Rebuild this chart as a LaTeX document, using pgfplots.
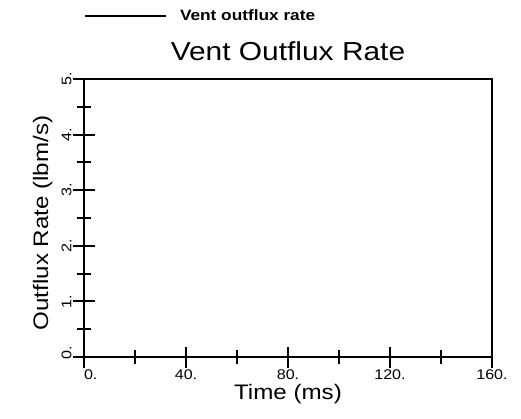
\documentclass[border=0pt]{standalone}
\usepackage{fontspec}
\setmainfont{Liberation Sans}[FakeStretch=1.15]
\usepackage{pgfplots}
\pgfplotsset{compat=1.18}
\begin{document}
\begin{tikzpicture}
\useasboundingbox (-84pt,-61pt) rectangle (437pt,357pt);
\begin{axis}[
  at={(0pt,0pt)}, anchor=south west,
  scale only axis,
  width=408pt, height=278pt,
  xmin=0, xmax=160, ymin=0, ymax=5,
  axis line style={line width=2.5pt},
  every tick/.style={black, line width=2pt},
  tick align=center,
  xtick pos=bottom, ytick pos=left,
  major tick length=21pt,
  minor tick length=14pt,
  xtick={0,40,80,120,160},
  xticklabels={\makebox[0pt][l]{0.},40.,80.,120.,160.},
  minor x tick num=1,
  ytick={0,1,2,3,4,5},
  yticklabels={\hspace*{8pt}0.,1.,2.,3.,4.,5.},
  minor y tick num=1,
  /pgf/number format/assume math mode=true,
  ticklabel style={font=\fontsize{14pt}{16pt}\selectfont},
  xticklabel style={anchor=base},
  xticklabel shift=12pt,
  yticklabel style={rotate=90, anchor=base},
  yticklabel shift=2pt,
  title={Vent Outflux Rate},
  title style={at={(axis description cs:0.5,1.0442)}, anchor=base, font=\fontsize{26pt}{29pt}\selectfont},
  xlabel={Time (ms)},
  xlabel style={at={(axis description cs:0.5,-0.1511)}, anchor=base, font=\fontsize{21pt}{24pt}\selectfont},
  ylabel={Outflux Rate (lbm/s)},
  ylabel style={at={(axis description cs:-0.0882,0.482)}, anchor=base, font=\fontsize{21pt}{24pt}\selectfont},
  legend style={at={(axis description cs:0,1.2266)}, anchor=west, draw=none, fill=none,
    inner sep=0pt, outer sep=0pt, nodes={inner sep=0pt}, font=\bfseries\fontsize{15pt}{17pt}\selectfont},
  legend cell align=left,
  legend image code/.code={\draw[line width=2pt] (0pt,0pt) -- (81pt,0pt);},
]
\addlegendimage{black, line width=2pt}
\addlegendentry{\hspace*{13pt}Vent outflux rate}
\end{axis}
\end{tikzpicture}
\end{document}
